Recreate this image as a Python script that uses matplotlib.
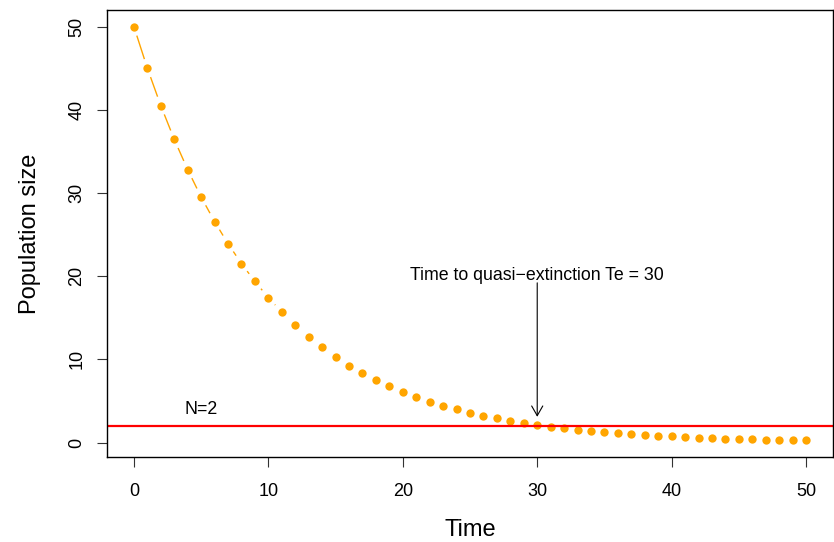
import matplotlib
matplotlib.use("Agg")
import matplotlib.pyplot as plt
import numpy as np

plt.rcParams["font.family"] = ["Liberation Sans", "DejaVu Sans"]

# population size, one point per time step
time = list(range(51))
population = [50.00, 45.00, 40.50, 36.45, 32.81, 29.52, 26.57, 23.91, 21.52, 19.37,
              17.43, 15.69, 14.12, 12.71, 11.44, 10.29, 9.26, 8.34, 7.50, 6.75,
              6.08, 5.47, 4.92, 4.43, 3.99, 3.59, 3.23, 2.91, 2.62, 2.36,
              2.12, 1.91, 1.72, 1.55, 1.39, 1.25, 1.13, 1.02, 0.91, 0.82,
              0.74, 0.67, 0.60, 0.54, 0.49, 0.44, 0.39, 0.35, 0.32, 0.29,
              0.26]
threshold = 2
te = 30
x_ticks = [0, 10, 20, 30, 40, 50]
y_ticks = [0, 10, 20, 30, 40, 50]

W, H = 834, 542
fig = plt.figure(figsize=(W / 100, H / 100), dpi=100)
ax = fig.add_axes([107 / W, (H - 457) / H, 726 / W, 447 / H])
ax.set_xlim(-2, 52)
ax.set_ylim(-1.73, 51.99)

# R type="b": line segments with a gap around each point
trans = ax.transData
pts = trans.transform(np.column_stack([time, population]))
gap = 9.5
for p0, p1 in zip(pts[:-1], pts[1:]):
    d = p1 - p0
    L = np.hypot(*d)
    if L <= 2 * gap:
        continue
    u = d / L
    seg = trans.inverted().transform([p0 + u * gap, p1 - u * gap])
    ax.plot(seg[:, 0], seg[:, 1], color="#FFA500", lw=1, solid_capstyle="butt")

ax.plot(time, population, "o", color="#FFA500", ms=6, mec="none")

ax.axhline(threshold, color="red", lw=1.6)
ax.text(5, 4, "N=2", ha="center", va="center", fontsize=12.8)

ax.annotate("", xy=(te, 3.1), xytext=(te, 19.2),
            arrowprops=dict(arrowstyle="->,head_length=0.35,head_width=0.2",
                            color="black", lw=0.8, shrinkA=0, shrinkB=0,
                            mutation_scale=20))
ax.text(te, 20.1, "Time to quasi\u2212extinction Te = 30", ha="center", va="center",
        fontsize=12.8)

ax.set_xticks(x_ticks)
ax.set_yticks(y_ticks)
ax.tick_params(length=7.5, width=0.8, color="#333333", labelsize=13)
ax.tick_params(axis="x", pad=11)
ax.tick_params(axis="y", pad=8, labelrotation=90)
for lab in ax.get_yticklabels():
    lab.set_va("center")

for sp in ax.spines.values():
    sp.set_linewidth(1.0)

ax.set_xlabel("Time", fontsize=17)
ax.xaxis.set_label_coords(0.5, (457 - 530) / 447)
ax.xaxis.label.set_verticalalignment("center")
ax.set_ylabel("Population size", fontsize=17)
ax.yaxis.set_label_coords((30 - 107) / 726, 0.5)
ax.yaxis.label.set_verticalalignment("center")

fig.savefig("out.png", dpi=100)
